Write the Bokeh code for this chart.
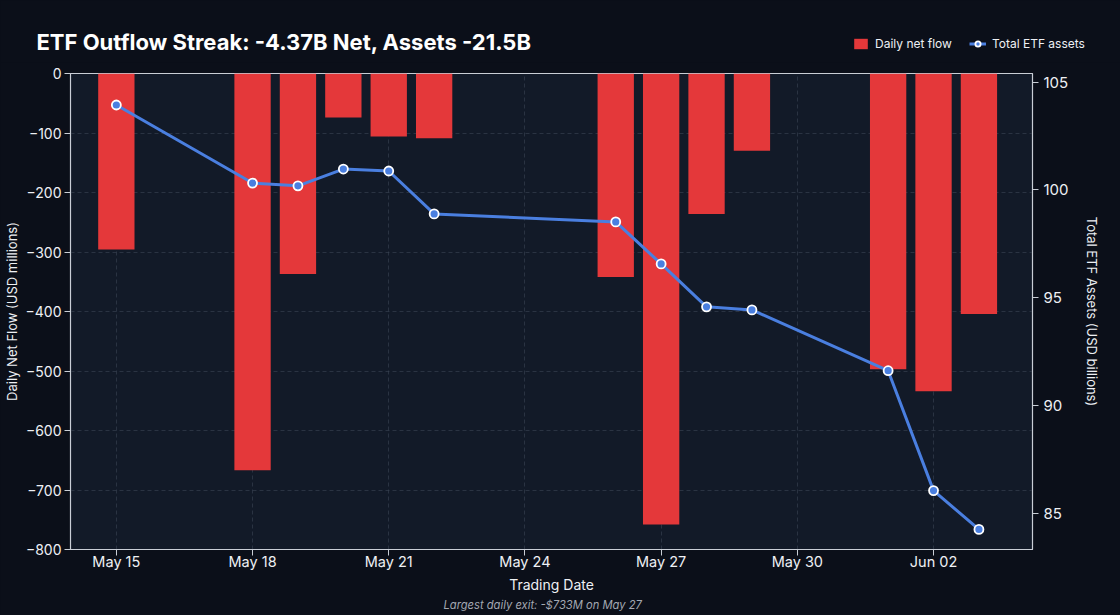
from datetime import datetime
from bokeh.plotting import figure
from bokeh.layouts import column, row
from bokeh.models import (Range1d, LinearAxis, FixedTicker, DatetimeTickFormatter,
                          Legend, LegendItem, Title, Label, ColumnDataSource)
from bokeh.embed import file_html
from bokeh.resources import INLINE

# ---- data ----
dates = ["2025-05-15", "2025-05-18", "2025-05-19", "2025-05-20", "2025-05-21",
         "2025-05-22", "2025-05-26", "2025-05-27", "2025-05-28", "2025-05-29",
         "2025-06-01", "2025-06-02", "2025-06-03"]
net_flow = [-296, -667, -337, -74, -106, -109, -342, -758, -236, -130, -497, -534, -404]
assets = [103.94, 100.32, 100.19, 100.97, 100.88, 98.89, 98.52, 96.57, 94.58, 94.44,
          91.62, 86.06, 84.26]
x_tick_dates = ["2025-05-15", "2025-05-18", "2025-05-21", "2025-05-24",
                "2025-05-27", "2025-05-30", "2025-06-02"]
left_ticks = [-800, -700, -600, -500, -400, -300, -200, -100, 0]
right_ticks = [85, 90, 95, 100, 105]

TITLE = "ETF Outflow Streak: -4.37B Net, Assets -21.5B"
BG = "#0b0f19"
PLOT_BG = "#121a28"
TXT = "#eef0f4"
RED = "#e4383a"
BLUE = "#4a7fe0"
FONT = "Inter"
DAY = 86400000
HEAD_H = 62


def ms(s):
    return datetime.strptime(s, "%Y-%m-%d").timestamp() * 1000


xs = [datetime.strptime(d, "%Y-%m-%d") for d in dates]
src = ColumnDataSource(dict(x=xs, flow=net_flow, assets=assets))

x0 = ms("2025-05-14") - 0.01 * DAY
x1 = ms("2025-06-04") + 0.18 * DAY

# ---------------- main chart ----------------
p = figure(width=1120, height=615 - HEAD_H, x_axis_type="datetime",
           x_range=Range1d(x0, x1), y_range=Range1d(-800, 0),
           output_backend="svg", toolbar_location=None, title=None,
           min_border_left=69, min_border_right=88, min_border_top=73 - HEAD_H,
           min_border_bottom=66)
p.background_fill_color = PLOT_BG
p.border_fill_color = BG
p.outline_line_color = "#c9ced6"
p.outline_line_width = 1.2

p.extra_y_ranges = {"assets": Range1d(83.33, 105.4)}

bar_style = dict(fill_color=RED, line_color=None)
line_style = dict(line_color=BLUE, line_width=3)
pt_style = dict(size=9, fill_color=BLUE, line_color="white", line_width=1.8)

p.vbar(x="x", top=0, bottom="flow", width=0.8 * DAY, source=src, **bar_style)
p.line(x="x", y="assets", source=src, y_range_name="assets", **line_style)
p.scatter(x="x", y="assets", source=src, y_range_name="assets", **pt_style)

p.xaxis.ticker = FixedTicker(ticks=[ms(d) for d in x_tick_dates])
p.xaxis.formatter = DatetimeTickFormatter(days="%b %d", months="%b %d", hours="%b %d")
p.xaxis.axis_label = "Trading Date"
p.yaxis.ticker = FixedTicker(ticks=left_ticks)
p.yaxis.axis_label = "Daily Net Flow (USD millions)"

right = LinearAxis(y_range_name="assets", ticker=FixedTicker(ticks=right_ticks),
                   axis_label="Total ETF Assets (USD billions)")
p.add_layout(right, "right")

for ax in [p.xaxis[0], p.yaxis[0], right]:
    ax.axis_line_color = "#c9ced6"
    ax.major_tick_line_color = "#c9ced6"
    ax.major_tick_out = 6
    ax.major_tick_in = 0
    ax.minor_tick_line_color = None
    ax.major_label_text_color = TXT
    ax.major_label_text_font = FONT
    ax.major_label_text_font_size = "14.5px"
    ax.axis_label_text_color = TXT
    ax.axis_label_text_font = FONT
    ax.axis_label_text_font_style = "normal"
    ax.axis_label_text_font_size = "13px"
    ax.major_label_standoff = 3
    ax.axis_label_standoff = 3
p.yaxis.major_label_text_font_size = "14px"
p.xaxis.axis_label_text_font_size = "14px"
p.xaxis.major_label_standoff = -3
p.xaxis.axis_label_standoff = 3
right.major_label_text_font_size = "15px"
right.major_label_standoff = 5
right.axis_label_standoff = 12

for g in (p.xgrid, p.ygrid):
    g.grid_line_color = "#3a4454"
    g.grid_line_dash = "4 3"
    g.grid_line_alpha = 0.6

foot = Title(text="Largest daily exit: -$733M on May 27", align="left", offset=373,
             text_color="#a3a8b2", text_font=FONT, text_font_size="11.2px",
             text_font_style="italic", standoff=0)
p.add_layout(foot, "below")

# ---------------- header: title + legend ----------------
h = figure(width=1120, height=HEAD_H, x_range=Range1d(0, 1120), y_range=Range1d(0, HEAD_H),
           output_backend="svg", toolbar_location=None, title=None,
           min_border=0, x_axis_type=None, y_axis_type=None)
h.background_fill_color = BG
h.border_fill_color = BG
h.outline_line_color = None
h.xgrid.visible = False
h.ygrid.visible = False

h.add_layout(Label(x=36, y=HEAD_H - 41, text=TITLE, text_baseline="middle",
                   text_color="#ffffff", text_font=FONT, text_font_size="22px",
                   text_font_style="bold"))

# legend-only renderers (no visible marks: NaN data) so the legend shows the series styles
nan = float("nan")
key_src = ColumnDataSource(dict(x=[nan], y=[nan], b=[nan]))
lb = h.vbar(x="x", top="y", bottom="b", width=1, source=key_src, **bar_style)
ll = h.line(x="x", y="y", source=key_src, **line_style)
lp = h.scatter(x="x", y="y", source=key_src, **pt_style)

legend = Legend(items=[LegendItem(label="Daily net flow", renderers=[lb]),
                       LegendItem(label="Total ETF assets", renderers=[ll, lp])],
                orientation="horizontal", location=(852, 11),
                background_fill_alpha=0, border_line_color=None,
                label_text_color=TXT, label_text_font=FONT, label_text_font_size="12px",
                glyph_width=17, glyph_height=13, spacing=17, padding=0, margin=0,
                label_standoff=6)
h.add_layout(legend, "center")

layout = column(row(h), p, spacing=0)
layout.styles = {"background-color": BG}

open("out.html", "w").write(file_html(layout, INLINE))
